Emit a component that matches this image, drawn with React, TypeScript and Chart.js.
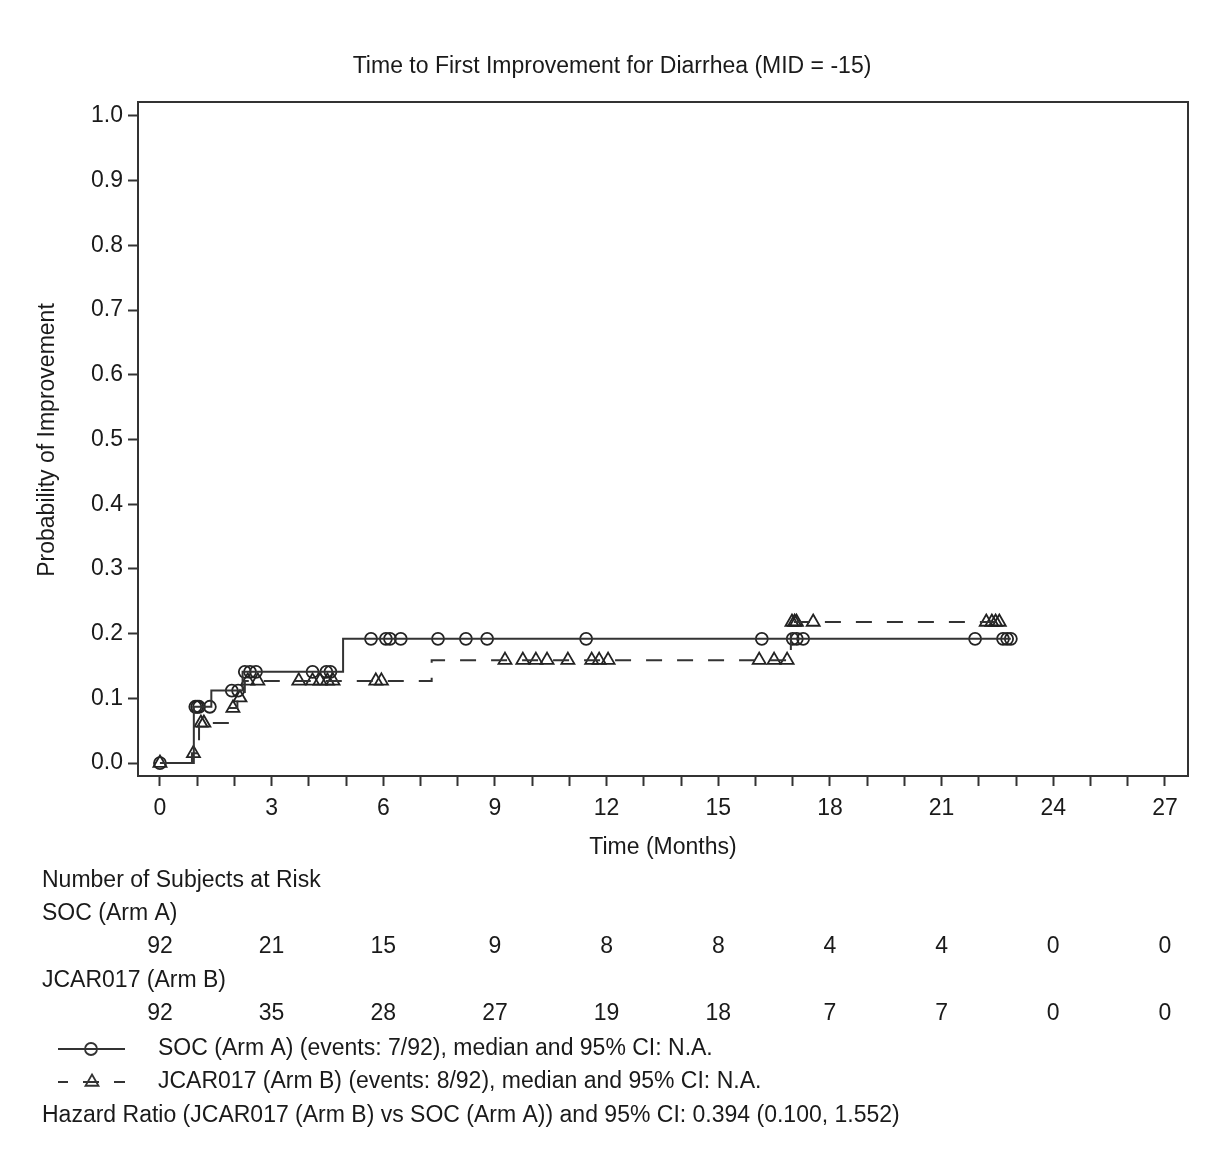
import React, { useEffect, useRef } from 'react';
import { Chart, registerables } from 'chart.js';

Chart.register(...registerables);

const W = 1211;
const H = 1153;

// Kaplan-Meier style cumulative improvement curves (step points)
const socStepTimes = [0, 0.91, 1.38, 2.22, 4.92, 22.86];
const socStepProbs = [0, 0.087, 0.112, 0.141, 0.192, 0.192];
const socCensorTimes = [0, 0.95, 1.0, 1.05, 1.34, 1.93, 2.1, 2.28, 2.42, 2.58, 4.1, 4.47, 4.58, 5.67, 6.07, 6.18, 6.47, 7.47, 8.22, 8.79, 11.45, 16.17, 17.0, 17.11, 17.28, 21.9, 22.65, 22.76, 22.86];

const jcarStepTimes = [0, 0.86, 1.05, 1.88, 2.08, 2.28, 7.3, 16.95, 22.55];
const jcarStepProbs = [0, 0.015, 0.062, 0.085, 0.101, 0.127, 0.159, 0.218, 0.218];
const jcarCensorTimes = [0, 0.9, 1.1, 1.18, 1.96, 2.15, 2.36, 2.63, 3.73, 4.1, 4.3, 4.5, 4.65, 5.8, 5.95, 9.27, 9.75, 10.1, 10.4, 10.96, 11.6, 11.8, 12.04, 16.1, 16.5, 16.85, 16.98, 17.05, 17.1, 17.55, 22.2, 22.35, 22.45, 22.55];

const riskTimes = [0, 3, 6, 9, 12, 15, 18, 21, 24, 27];
const socAtRisk = [92, 21, 15, 9, 8, 8, 4, 4, 0, 0];
const jcarAtRisk = [92, 35, 28, 27, 19, 18, 7, 7, 0, 0];

const TITLE = 'Time to First Improvement for Diarrhea (MID = -15)';
const X_TITLE = 'Time (Months)';
const Y_TITLE = 'Probability of Improvement';
const SOC_NAME = 'SOC (Arm A)';
const JCAR_NAME = 'JCAR017 (Arm B)';
const SOC_LEGEND = 'SOC (Arm A) (events: 7/92), median and 95% CI: N.A.';
const JCAR_LEGEND = 'JCAR017 (Arm B) (events: 8/92), median and 95% CI: N.A.';
const HAZARD = 'Hazard Ratio (JCAR017 (Arm B) vs SOC (Arm A)) and 95% CI: 0.394 (0.100, 1.552)';

const FONT = '"Liberation Sans", Arial, sans-serif';
const FS = 23;
const TXT = '#1a1a1a';
const LINE = '#333333';
const DASH = [16, 15];

function kmAt(times: number[], probs: number[], t: number): number {
  let p = probs[0];
  for (let i = 0; i < times.length; i++) if (times[i] <= t) p = probs[i];
  return p;
}

const textPlugin = {
  id: 'kmText',
  afterDraw(chart: any) {
    const ctx = chart.ctx as CanvasRenderingContext2D;
    const ca = chart.chartArea;
    const xs = chart.scales.x;
    ctx.save();
    // frame top/right
    ctx.strokeStyle = LINE;
    ctx.lineWidth = 2;
    ctx.beginPath();
    ctx.moveTo(ca.left, ca.top);
    ctx.lineTo(ca.right, ca.top);
    ctx.lineTo(ca.right, ca.bottom);
    ctx.stroke();

    ctx.fillStyle = TXT;
    ctx.textBaseline = 'middle';
    ctx.font = `${FS}px ${FONT}`;
    ctx.textAlign = 'center';
    ctx.fillText(TITLE, 612, 67);
    ctx.fillText(X_TITLE, 663, 848);

    ctx.save();
    ctx.translate(48, 440);
    ctx.rotate(-Math.PI / 2);
    ctx.fillText(Y_TITLE, 0, 0);
    ctx.restore();

    ctx.textAlign = 'left';
    ctx.fillText('Number of Subjects at Risk', 42, 881);
    ctx.fillText(SOC_NAME, 42, 914);
    ctx.fillText(JCAR_NAME, 42, 981);
    ctx.textAlign = 'center';
    riskTimes.forEach((t, i) => {
      const px = xs.getPixelForValue(t);
      ctx.fillText(String(socAtRisk[i]), px, 947);
      ctx.fillText(String(jcarAtRisk[i]), px, 1014);
    });

    // legend
    ctx.strokeStyle = LINE;
    ctx.lineWidth = 2;
    ctx.beginPath();
    ctx.moveTo(58, 1049);
    ctx.lineTo(125, 1049);
    ctx.stroke();
    ctx.lineWidth = 1.8;
    ctx.beginPath();
    ctx.arc(91, 1049, 6, 0, Math.PI * 2);
    ctx.stroke();

    ctx.lineWidth = 2;
    ctx.setLineDash(DASH);
    ctx.lineDashOffset = 6;
    ctx.beginPath();
    ctx.moveTo(58, 1082);
    ctx.lineTo(125, 1082);
    ctx.stroke();
    ctx.setLineDash([]);
    ctx.lineWidth = 1.8;
    const r = 7.5;
    ctx.beginPath();
    ctx.moveTo(92, 1082 - r);
    ctx.lineTo(92 + r * Math.sin(Math.PI / 3), 1082 + r / 2);
    ctx.lineTo(92 - r * Math.sin(Math.PI / 3), 1082 + r / 2);
    ctx.closePath();
    ctx.stroke();

    ctx.textAlign = 'left';
    ctx.fillText(SOC_LEGEND, 158, 1049);
    ctx.fillText(JCAR_LEGEND, 158, 1082);
    ctx.fillText(HAZARD, 42, 1116);
    ctx.restore();
  },
};

export default function App() {
  const ref = useRef<HTMLCanvasElement | null>(null);
  useEffect(() => {
    if (!ref.current) return;
    const chart = new Chart(ref.current, {
      type: 'scatter',
      data: {
        datasets: [
          {
            label: 'SOC',
            data: socStepTimes.map((t, i) => ({ x: t, y: socStepProbs[i] })),
            showLine: true,
            stepped: 'before',
            borderColor: LINE,
            borderWidth: 2,
            pointRadius: 0,
            fill: false,
          },
          {
            label: 'JCAR017',
            data: jcarStepTimes.map((t, i) => ({ x: t, y: jcarStepProbs[i] })),
            showLine: true,
            stepped: 'before',
            borderColor: LINE,
            borderWidth: 2,
            borderDash: DASH,
            pointRadius: 0,
            fill: false,
          },
          {
            label: 'SOC censored',
            data: socCensorTimes.map((t) => ({ x: t, y: kmAt(socStepTimes, socStepProbs, t) })),
            showLine: false,
            pointStyle: 'circle',
            pointRadius: 6,
            pointBorderWidth: 1.8,
            pointBorderColor: '#222',
            pointBackgroundColor: 'rgba(0,0,0,0)',
          },
          {
            label: 'JCAR censored',
            data: jcarCensorTimes.map((t) => ({ x: t, y: kmAt(jcarStepTimes, jcarStepProbs, t) })),
            showLine: false,
            pointStyle: 'triangle',
            pointRadius: 7.5,
            pointBorderWidth: 1.8,
            pointBorderColor: '#222',
            pointBackgroundColor: 'rgba(0,0,0,0)',
          },
        ],
      } as any,
      options: {
        responsive: false,
        animation: false,
        devicePixelRatio: 1,
        events: [],
        layout: { padding: { left: 0, right: W - 1188, top: 102, bottom: H - 776 - 48 } },
        plugins: { legend: { display: false }, tooltip: { enabled: false }, title: { display: false } },
        scales: {
          x: {
            type: 'linear',
            min: -0.59,
            max: 27.62,
            afterFit: (s: any) => { s.height = 48; },
            ticks: {
              stepSize: 1,
              autoSkip: false,
              includeBounds: false,
              maxRotation: 0,
              padding: 9,
              color: TXT,
              font: { family: FONT, size: FS },
              callback: (v: any) => (Math.round(v) % 3 === 0 ? String(Math.round(v)) : ''),
            },
            grid: { drawOnChartArea: false, drawTicks: true, tickLength: 10, tickColor: LINE, tickWidth: 2 },
            border: { display: true, color: LINE, width: 2 },
          },
          y: {
            type: 'linear',
            min: -0.02,
            max: 1.0216,
            afterFit: (s: any) => { s.width = 138; },
            ticks: {
              stepSize: 0.1,
              includeBounds: false,
              padding: 5,
              color: TXT,
              font: { family: FONT, size: FS },
              callback: (v: any) => Number(v).toFixed(1),
            },
            grid: { drawOnChartArea: false, drawTicks: true, tickLength: 10, tickColor: LINE, tickWidth: 2 },
            border: { display: true, color: LINE, width: 2 },
          },
        },
      } as any,
      plugins: [textPlugin],
    });
    return () => chart.destroy();
  }, []);
  return (
    <div style={{ position: 'absolute', left: 0, top: 0, width: W, height: H, background: '#fff' }}>
      <canvas ref={ref} width={W} height={H} style={{ display: 'block' }} />
    </div>
  );
}
